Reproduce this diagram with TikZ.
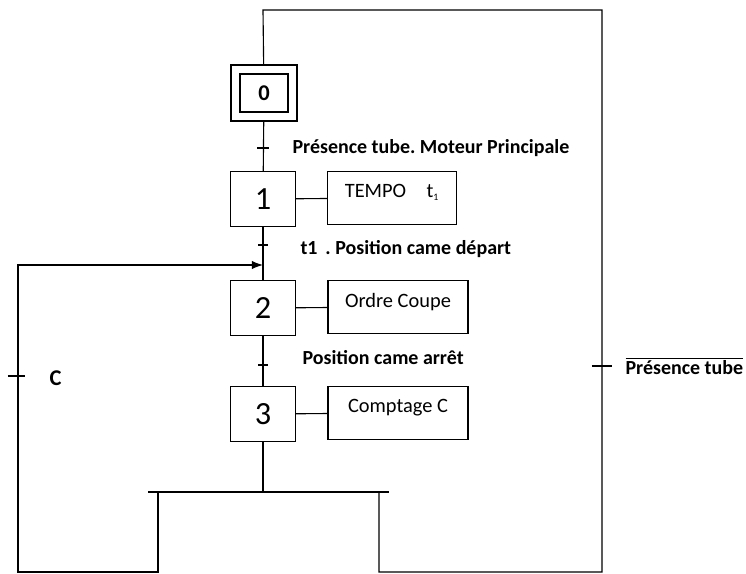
\documentclass[tikz,border=0pt]{standalone}
\usepackage{fontspec}
\setmainfont{Carlito}
\usetikzlibrary{arrows.meta}
\frenchspacing
\begin{document}
\begin{tikzpicture}[x=0.025cm,y=-0.025cm,line width=0.8pt,
    etape/.style={draw,minimum width=1.63cm,minimum height=1.38cm,inner sep=0pt,font=\fontsize{23}{26}\selectfont},
    action/.style={draw,minimum height=1.34cm,text depth=10pt,inner sep=0pt,font=\fontsize{14.5}{17}\selectfont},
    recep/.style={anchor=west,inner sep=0pt,font=\bfseries\fontsize{14.2}{17}\selectfont}]
    \useasboundingbox (0,0) rectangle (746,574);
    % etapes
    \node[draw,minimum width=1.65cm,minimum height=1.4cm] (e0) at (264,93) {};
    \node[draw,minimum width=1.2cm,minimum height=0.95cm,inner sep=0pt,font=\bfseries\fontsize{16}{18}\selectfont] (e0i) at (e0) {0};
    \node[etape] (e1) at (263,199) {1};
    \node[etape] (e2) at (263,308) {2};
    \node[etape] (e3) at (263,414) {3};
    % actions
    \node[action,minimum width=3.23cm] (a1) at (392,198) {TEMPO\quad t$_{\mbox{\scriptsize 1}}$};
    \node[action,minimum width=3.5cm] (a2) at (398,307) {Ordre Coupe};
    \node[action,minimum width=3.5cm] (a3) at (398,413) {Comptage C};
    \draw (e1) -- (a1);
    \draw (e2) -- (a2);
    \draw (e3) -- (a3);
    % liaisons
    \draw (e0) -- (e1);
    \draw (e1) -- (e2);
    \draw (e2) -- (e3);
    \coordinate (t01) at (263,148);
    \coordinate (t12) at (263,245);
    \coordinate (t23) at (263,365);
    \draw ([xshift=-0.14cm]t01) -- ([xshift=0.14cm]t01);
    \draw ([xshift=-0.12cm]t12) -- ([xshift=0.12cm]t12);
    \draw ([xshift=-0.12cm]t23) -- ([xshift=0.12cm]t23);
    \node[recep] (r01) at (292,148) {Présence tube. Moteur Principale};
    \node[recep] (r12) at (300,249) {t1\, . Position came départ};
    \node[recep] (r23) at (302,358) {Position came arrêt};
    % divergence en OU
    \coordinate (d) at (263,492);
    \coordinate (dg) at (148,492);
    \coordinate (dd) at (389,492);
    \draw (e3) -- (d);
    \draw (dg) -- (dd);
    % reprise vers 2
    \coordinate (g0) at (158,492);
    \coordinate (g1) at (158,572);
    \coordinate (g2) at (18,572);
    \coordinate (g3) at (18,265);
    \coordinate (g4) at (263,265);
    \draw[-{Latex[length=8pt,width=6pt]}] (g0) -- (g1) -- (g2) -- (g3) -- (g4);
    \coordinate (tc) at (18,376);
    \draw ([xshift=-0.25cm]tc) -- ([xshift=0.18cm]tc);
    \node[recep,font=\bfseries\fontsize{16}{18}\selectfont] (rc) at (49,378) {C};
    % reprise vers 0
    \coordinate (h0) at (379,492);
    \coordinate (h1) at (379,572);
    \coordinate (h2) at (602,572);
    \coordinate (h3) at (602,10);
    \coordinate (h4) at (263,10);
    \draw (h0) -- (h1) -- (h2) -- (h3) -- (h4) -- (e0);
    \coordinate (tp) at (602,366);
    \draw ([xshift=-0.25cm]tp) -- ([xshift=0.25cm]tp);
    \node[recep] (rp) at (625,366) {$\overline{\mbox{Présence tube}}$};
\end{tikzpicture}
\end{document}
